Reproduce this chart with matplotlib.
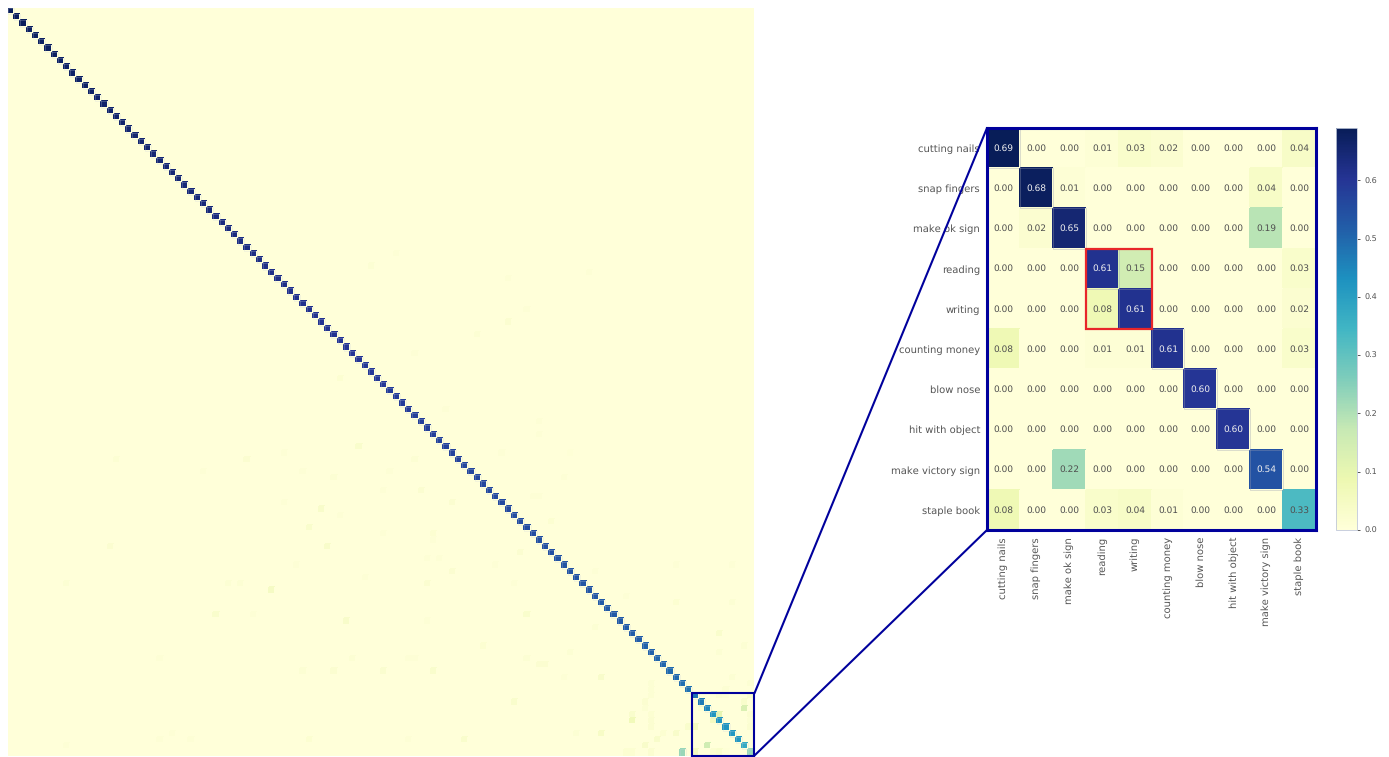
import matplotlib
matplotlib.use('Agg')
import numpy as np
import matplotlib.pyplot as plt
from matplotlib.patches import Rectangle, ConnectionPatch

plt.rcParams['text.hinting'] = 'none'
plt.rcParams['text.hinting_factor'] = 1

labels = ['cutting nails', 'snap fingers', 'make ok sign', 'reading', 'writing',
          'counting money', 'blow nose', 'hit with object', 'make victory sign', 'staple book']

# the 10 classes shown in the zoomed panel
zoom_values = [
    [0.69, 0.00, 0.00, 0.01, 0.03, 0.02, 0.00, 0.00, 0.00, 0.04],
    [0.00, 0.68, 0.01, 0.00, 0.00, 0.00, 0.00, 0.00, 0.04, 0.00],
    [0.00, 0.02, 0.65, 0.00, 0.00, 0.00, 0.00, 0.00, 0.19, 0.00],
    [0.00, 0.00, 0.00, 0.61, 0.15, 0.00, 0.00, 0.00, 0.00, 0.03],
    [0.00, 0.00, 0.00, 0.08, 0.61, 0.00, 0.00, 0.00, 0.00, 0.02],
    [0.08, 0.00, 0.00, 0.01, 0.01, 0.61, 0.00, 0.00, 0.00, 0.03],
    [0.00, 0.00, 0.00, 0.00, 0.00, 0.00, 0.60, 0.00, 0.00, 0.00],
    [0.00, 0.00, 0.00, 0.00, 0.00, 0.00, 0.00, 0.60, 0.00, 0.00],
    [0.00, 0.00, 0.22, 0.00, 0.00, 0.00, 0.00, 0.00, 0.54, 0.00],
    [0.08, 0.00, 0.00, 0.03, 0.04, 0.01, 0.00, 0.00, 0.00, 0.33],
]

# diagonal of the other 110 classes
diag_values = [
    .99, .99, .99, .98, .98, .98, .98, .98, .97, .97,
    .97, .97, .97, .97, .96, .96, .96, .96, .96, .95,
    .95, .95, .95, .94, .94, .94, .94, .94, .93, .93,
    .93, .93, .93, .92, .92, .92, .92, .91, .91, .91,
    .91, .90, .90, .90, .90, .89, .89, .89, .89, .88,
    .88, .88, .88, .87, .87, .87, .87, .86, .86, .86,
    .86, .85, .85, .85, .85, .84, .84, .84, .84, .83,
    .83, .83, .83, .82, .82, .82, .82, .81, .81, .81,
    .81, .80, .80, .80, .80, .79, .79, .79, .78, .78,
    .78, .78, .77, .77, .77, .76, .76, .76, .76, .75,
    .75, .75, .74, .74, .73, .73, .72, .72, .71, .70,
]

# visible off-diagonal confusions of the full matrix: (row, column, value)
confusions = [
    (70, 56, .04), (72, 65, .02), (74, 47, .015), (74, 61, .015), (75, 52, .02),
    (71, 79, .015), (71, 90, .01), (75, 89, .015), (77, 60, .015), (77, 66, .03),
    (79, 71, .03), (78, 84, .015), (78, 85, .015), (80, 50, .05), (81, 53, .012),
    (82, 87, .025), (83, 48, .04), (84, 60, .015), (84, 68, .025), (85, 68, .015),
    (86, 51, .05), (87, 82, .03), (88, 67, .012), (88, 69, .012), (89, 78, .012),
    (90, 71, .03), (91, 57, .012), (92, 67, .03), (92, 81, .012), (97, 83, .04),
    (98, 54, .05), (98, 67, .012), (102, 76, .025), (103, 90, .02), (104, 55, .02),
    (104, 64, .015), (104, 65, .015), (104, 83, .02), (105, 85, .03), (105, 86, .03),
    (106, 52, .03), (106, 60, .035), (106, 68, .04), (106, 47, .02), (111, 81, .04),
    (117, 48, .025), (117, 73, .04), (117, 64, .015), (116, 91, .02),
    (72, 38, .03), (72, 17, .02), (71, 44, .012), (74, 31, .015), (79, 44, .015),
    (86, 16, .03), (93, 42, .07), (97, 33, .04), (92, 35, .02), (92, 37, .02),
    (92, 9, .02), (97, 39, .015), (89, 46, .015), (104, 24, .012), (118, 9, .015),
    (116, 26, .012), (117, 24, .012), (117, 29, .012),
    (100, 114, .04), (102, 118, .02), (107, 95, .05), (107, 116, .02), (108, 119, .02),
    (109, 115, .02), (108, 103, .02), (109, 103, .02), (110, 103, .02), (95, 107, .025),
    (95, 116, .02), (90, 94, .015), (89, 107, .012), (89, 116, .012), (94, 99, .015),
    (99, 94, .02), (103, 114, .02), (114, 100, .10), (113, 100, .04), (113, 103, .025),
    (114, 103, .03), (115, 103, .03), (111, 102, .03), (112, 102, .02), (116, 95, .06),
    (116, 105, .025), (116, 107, .05), (115, 109, .04), (117, 104, .05), (118, 102, .05),
    (119, 108, .33), (119, 100, .025), (119, 99, .025), (119, 103, .03), (107, 89, .015),
    (41, 58, .02), (39, 62, .012), (43, 80, .015), (48, 83, .012), (50, 80, .03),
    (52, 75, .02), (59, 53, .025), (66, 85, .015), (68, 85, .015), (64, 70, .015),
    (55, 65, .012), (42, 93, .012),
]

cbar_ticks = [0.0, 0.1, 0.2, 0.3, 0.4, 0.5, 0.6]

W, H = 1389, 757
BOX = '#00009c'
GREY = '#555555'


def px_axes(fig, left, top, right, bottom):
    return fig.add_axes([left / W, 1 - bottom / H, (right - left) / W, (bottom - top) / H])


def draw_matrix(ax, values, vmax, cutoff, edge, lw):
    # flat cells, the strong ones get a thin pale border
    m = ax.pcolormesh(values, cmap='YlGnBu', vmin=0, vmax=vmax, edgecolors='face', linewidth=0.2)
    for r, c in np.argwhere(values >= cutoff):
        ax.add_patch(Rectangle((c, r), 1, 1, fill=False, edgecolor=edge, linewidth=lw))
    return m


zoom = np.array(zoom_values)
full = np.zeros((120, 120))
full[np.arange(110), np.arange(110)] = diag_values
for r, c, v in confusions:
    full[r, c] = v
full[110:, 110:] = zoom

fig = plt.figure(figsize=(W / 100, H / 100), dpi=100)

# whole matrix
ax = px_axes(fig, 8, 8, 754.5, 755.5)
draw_matrix(ax, full, 1.0, 0.3, (0.8, 0.83, 0.88, 0.45), 0.4)
ax.set_xlim(0, 120)
ax.set_ylim(120, 0)
ax.axis('off')
ax.add_patch(Rectangle((110, 110), 10, 10, fill=False, edgecolor=BOX, linewidth=1.5, clip_on=False, zorder=5))

# zoomed panel
ax2 = px_axes(fig, 987, 128, 1316, 530)
mesh = draw_matrix(ax2, zoom, 0.69, 0.5, (0.6, 0.62, 0.7, 0.5), 0.5)
ax2.set_xlim(0, 10)
ax2.set_ylim(10, 0)
for r in range(10):
    for c in range(10):
        v = zoom[r, c]
        ax2.text(c + 0.5, r + 0.5, '%.2f' % v, ha='center', va='center', fontsize=6.5,
                 color='#eeeeee' if v > 0.4 else '#505050')
ax2.set_xticks(np.arange(10) + 0.5)
ax2.set_yticks(np.arange(10) + 0.5)
ax2.set_xticklabels(labels, rotation=90, fontsize=6.85, color=GREY)
ax2.set_yticklabels(labels, fontsize=6.85, color=GREY)
ax2.tick_params(length=0, pad=5)
for s in ax2.spines.values():
    s.set_edgecolor(BOX)
    s.set_linewidth(2.2)
ax2.add_patch(Rectangle((3, 3), 2, 2, fill=False, edgecolor='#e8262a', linewidth=1.6, clip_on=False, zorder=5))

# colorbar
cax = px_axes(fig, 1336, 128, 1357, 530)
cb = fig.colorbar(mesh, cax=cax, ticks=cbar_ticks)
cb.ax.tick_params(labelsize=5.9, labelcolor=GREY, color=GREY, length=2.5, width=0.7, pad=3)
cb.outline.set_edgecolor('#c0c8d8')
cb.outline.set_linewidth(0.6)

# lines joining the box to the zoomed panel
for ya, yb in [(110, 0), (120, 10)]:
    fig.add_artist(ConnectionPatch((120, ya), (0, yb), 'data', 'data', axesA=ax, axesB=ax2,
                                   color=BOX, linewidth=1.5, zorder=10))

fig.savefig('out.png', dpi=100)
